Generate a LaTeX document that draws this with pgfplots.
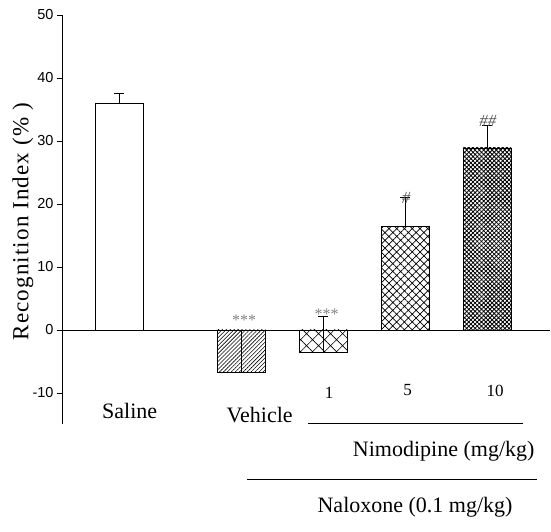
\documentclass[border=0pt]{standalone}
\usepackage{fontspec}
\setmainfont{Liberation Serif}
\newfontfamily\arialf{Liberation Sans}
\usepackage{pgfplots}
\pgfplotsset{compat=1.18}
\usetikzlibrary{patterns.meta}

\pgfplotsset{
  ebar/.style={
    error bars/.cd, y dir=plus, y explicit,
    error mark options={rotate=90, mark size=5pt, line width=0.8pt, black},
    error bar style={line width=0.8pt, black},
  },
}

\begin{document}
\begin{tikzpicture}
\useasboundingbox (0,0) rectangle (551pt,532pt);
\begin{axis}[
  at={(62pt,107.5pt)}, anchor=south west,
  scale only axis, width=488pt, height=409.5pt,
  xmin=-0.697, xmax=5.27, ymin=-15, ymax=50,
  axis x line=none, axis y line*=left,
  ytick={-10,0,10,20,30,40,50},
  tick align=outside, major tick length=5pt,
  tick style={black, line width=0.6pt},
  y axis line style={line width=0.6pt},
  yticklabel style={font=\arialf\fontsize{14.5}{14.5}\selectfont},
  /pgf/number format/assume math mode=true,
  ylabel={\addfontfeature{LetterSpace=5}Recognition Index (\% )},
  ylabel style={at={(axis description cs:-0.08,0.495)}, anchor=center,
    font=\fontsize{23}{23}\selectfont},
  ybar, bar width=48pt, bar shift=0pt,
  clip=false,
]
% Saline
\addplot[draw=black, line width=0.8pt, fill=white, ebar]
  coordinates {(0,36) +- (0,1.5)};
% Vehicle
\addplot[draw=black, line width=0.8pt, fill=white,
  pattern={Lines[angle=45,distance=2.8pt,line width=0.6pt]}, ebar]
  coordinates {(1.5,-6.7) +- (0,6.7)};
% Nimodipine 1
\addplot[draw=black, line width=0.8pt,
  pattern={Hatch[angle=45,distance=8.5pt,line width=0.6pt]}, ebar]
  coordinates {(2.5,-3.5) +- (0,5.6)};
% Nimodipine 5
\addplot[draw=black, line width=0.8pt,
  pattern={Hatch[angle=45,distance=5.5pt,line width=0.7pt]}, ebar]
  coordinates {(3.5,16.5) +- (0,4.6)};
% Nimodipine 10
\addplot[draw=black, line width=0.8pt,
  pattern={Hatch[angle=45,distance=3pt,line width=0.8pt]}, ebar]
  coordinates {(4.5,28.9) +- (0,3.6)};
% zero line
\addplot[forget plot, sharp plot, black, line width=0.8pt]
  coordinates {(-0.697,0) (5.27,0)};

% significance marks
\node[gray, font=\fontsize{16}{16}\selectfont] at (axis cs:1.53,1.6) {***};
\node[gray, font=\fontsize{16}{16}\selectfont] at (axis cs:2.54,2.5) {***};
\node[gray!70!black, font=\itshape\fontsize{17}{17}\selectfont] at (axis cs:3.51,21) {\#};
\node[gray!70!black, font=\itshape\fontsize{17}{17}\selectfont] at (axis cs:4.51,33.2) {\#\#};

% group labels
\node[font=\fontsize{22}{22}\selectfont] at (axis cs:0.13,-12.86) {Saline};
\node[font=\fontsize{22}{22}\selectfont] at (axis cs:1.72,-13.5) {Vehicle};
\node[font=\fontsize{17}{17}\selectfont] at (axis cs:2.57,-10) {1};
\node[font=\fontsize{17}{17}\selectfont] at (axis cs:3.53,-9.5) {5};
\node[font=\fontsize{17}{17}\selectfont] at (axis cs:4.6,-9.7) {10};
\draw[line width=0.8pt] (axis cs:2.31,-14.76) -- (axis cs:4.94,-14.76);
\node[font=\fontsize{22}{22}\selectfont] at (axis cs:3.97,-19.2) {Nimodipine (mg/kg)};
\draw[line width=0.8pt] (axis cs:1.565,-23.65) -- (axis cs:5.11,-23.65);
\node[font=\fontsize{22}{22}\selectfont] at (axis cs:3.62,-28.1) {Naloxone (0.1 mg/kg)};
\end{axis}
\end{tikzpicture}
\end{document}
